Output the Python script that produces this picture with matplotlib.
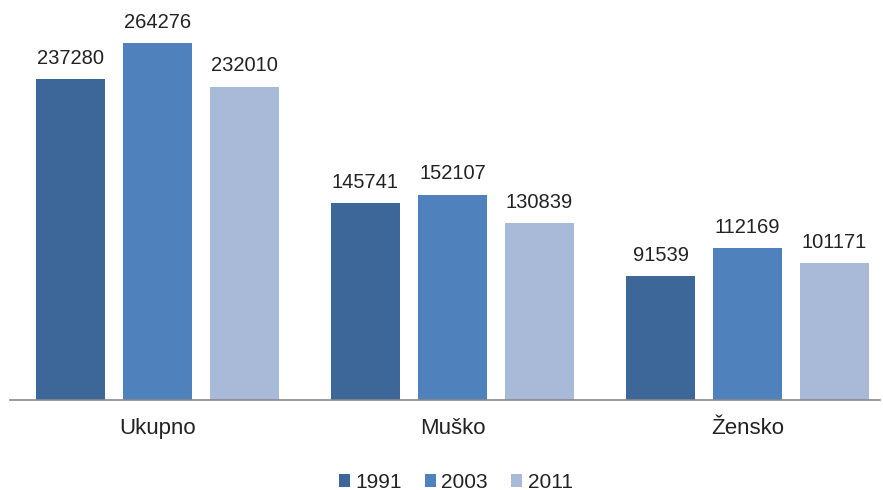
import matplotlib.pyplot as plt
import numpy as np

plt.rcParams['font.family'] = ['Liberation Sans', 'DejaVu Sans']

categories = ['Ukupno', 'Muško', 'Žensko']
years = ['1991', '2003', '2011']
values = {
    '1991': [237280, 145741, 91539],
    '2003': [264276, 152107, 112169],
    '2011': [232010, 130839, 101171],
}
colors = ['#3D6799', '#4F81BD', '#A9B9D8']

fig = plt.figure(figsize=(8.83, 4.9), dpi=100)
ax = fig.add_axes([10/883, 90/490, 870/883, 390/490])

x = np.arange(len(categories))
width = 0.234
offset = 0.295
for i, (yr, c) in enumerate(zip(years, colors)):
    bars = ax.bar(x + (i - 1) * offset, values[yr], width, color=c, label=yr)
    for b, v in zip(bars, values[yr]):
        ax.annotate(str(v), (b.get_x() + b.get_width() / 2, v),
                    xytext=(0, 8), textcoords='offset points',
                    ha='center', va='bottom', fontsize=14.5, color='#222222')

ax.set_xlim(-0.5, 2.449)
ax.set_ylim(0, 288700)
ax.set_xticks(x)
ax.set_xticklabels(categories, fontsize=16, color='#222222')
ax.tick_params(axis='x', length=0, pad=13)
ax.set_yticks([])
for s in ['top', 'right', 'left']:
    ax.spines[s].set_visible(False)
ax.spines['bottom'].set_color('#898989')
ax.spines['bottom'].set_linewidth(1.2)

fig.legend(loc='center', bbox_to_anchor=(0.516, 0.016), ncol=3, frameon=False,
           fontsize=15, handlelength=0.55, handleheight=0.55, handletextpad=0.25,
           columnspacing=1.1, labelcolor='#222222', borderpad=0.05)

fig.savefig('out.png', dpi=100)
